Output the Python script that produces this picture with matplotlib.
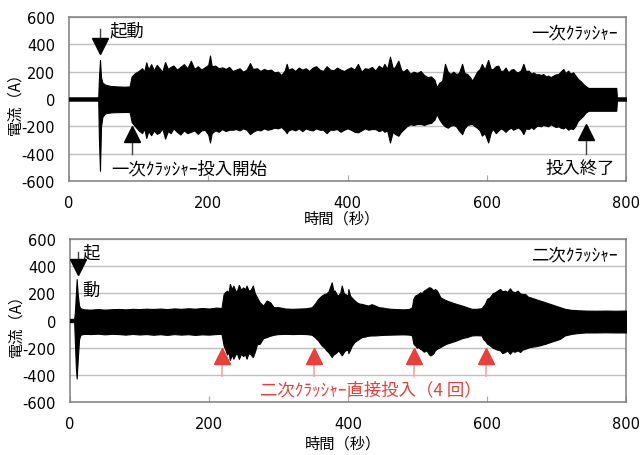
import matplotlib
matplotlib.use('Agg')
import matplotlib.pyplot as plt

JP = ['Noto Sans CJK JP', 'DejaVu Sans']
plt.rcParams['font.family'] = ['DejaVu Sans']
plt.rcParams['axes.unicode_minus'] = False

# 一次クラッシャー: 時間(秒) と電流波形の上下包絡線(A)
top_t = [0, 40, 42, 43, 44.5, 46, 48, 52, 60, 70, 80, 87, 90, 95, 100, 105, 108, 111, 114, 118,
         122, 126, 130, 134, 138, 142, 146, 150, 155, 160, 165, 170, 175, 180, 185, 190, 195, 200,
         202.5, 205, 210, 215, 220, 225, 230, 235, 240, 245, 250, 255, 260, 264, 270, 275, 280,
         285, 290, 295, 300, 305, 310, 312.6, 315, 320, 325, 330, 335, 340, 345, 350, 355, 360,
         365, 370, 375, 380, 385, 390, 395, 400, 405, 410, 415, 420, 425, 430, 435, 440, 445, 450,
         453, 457, 461, 465, 468, 473, 477, 480, 485, 490, 495, 500, 505, 510, 515, 520, 525, 528,
         532, 536, 540, 544, 548, 552, 556, 560, 564.6, 568, 572, 576, 579, 583, 586, 590, 593,
         597, 602, 606, 609, 613, 616.5, 620, 623.7, 627, 631, 635, 638, 642, 645, 649, 652.6,
         656, 660, 664, 667, 671, 674, 678, 681, 685, 688, 692, 695.5, 699, 703, 706, 710, 713,
         717, 720, 724, 727, 731, 735, 738.6, 742, 746, 786, 787, 800]
top_hi = [12, 12, 15, 150, 286, 160, 120, 105, 95, 92, 90, 92, 165, 190, 205, 225, 200, 268, 215, 255,
          210, 250, 225, 200, 270, 220, 235, 245, 215, 235, 255, 225, 280, 220, 240, 215, 232, 250,
          318, 240, 244, 225, 232, 220, 235, 205, 215, 225, 200, 215, 263, 220, 225, 205, 220,
          210, 215, 195, 200, 175, 210, 257, 215, 225, 205, 230, 215, 225, 205, 230, 240, 215,
          205, 240, 215, 210, 230, 215, 205, 220, 232, 215, 257, 200, 225, 220, 235, 208, 244, 225,
          257, 220, 310, 225, 232, 281, 215, 200, 220, 185, 200, 190, 205, 175, 160, 165, 140, 86,
          120, 134, 257, 200, 183, 200, 183, 190, 257, 190, 183, 160, 134, 170, 200, 220, 257,
          215, 286, 215, 220, 240, 244, 205, 208, 230, 195, 215, 220, 200, 195, 210, 257,
          205, 208, 185, 195, 180, 183, 175, 183, 165, 171, 160, 171, 180, 183, 200, 220, 190,
          208, 185, 195, 175, 147, 130, 110, 95, 81, 81, 12, 12]
top_lo = [-12, -12, -15, -300, -525, -200, -130, -105, -98, -96, -95, -95, -170, -200, -230, -250, -215, -285, -235, -265,
          -230, -255, -245, -215, -290, -235, -250, -215, -240, -260, -230, -250, -240, -230, -255, -230, -225, -260,
          -318, -250, -230, -240, -220, -235, -225, -225, -220, -230, -215, -225, -257, -240, -225, -230, -215,
          -225, -220, -210, -215, -205, -230, -250, -230, -220, -230, -215, -235, -215, -225, -230, -215, -225,
          -225, -250, -225, -225, -220, -240, -225, -215, -225, -240, -244, -230, -215, -225, -220, -220, -235, -225,
          -240, -230, -318, -240, -255, -269, -240, -225, -200, -185, -190, -183, -183, -190, -180, -175, -150, -110,
          -150, -180, -200, -210, -195, -190, -200, -230, -257, -215, -190, -185, -183, -200, -210, -230, -268,
          -250, -318, -240, -220, -250, -232, -215, -225, -240, -220, -210, -225, -215, -208, -225, -257,
          -215, -220, -205, -220, -200, -195, -200, -190, -195, -200, -185, -195, -205, -200, -210, -215, -205,
          -225, -215, -220, -200, -159, -140, -122, -100, -86, -86, -12, -12]

# 二次クラッシャー
bot_t = [0, 6, 7, 8.5, 9.6, 11, 13, 15, 20, 30, 40, 50, 60, 70, 80, 90, 100, 110, 120, 130, 140,
         150, 160, 170, 180, 190, 200, 210, 218, 221, 223, 226, 228, 230, 233, 235, 238, 240, 243,
         246, 249, 252, 254, 257, 260, 263, 266, 269, 273, 278, 283, 288, 293, 300, 310, 320, 330,
         340, 348, 352, 357, 362, 366, 369, 372, 376.5, 379, 381, 384, 386, 389, 391, 394, 396,
         400, 400.5, 403, 405, 409, 412.5, 416, 420, 425, 429, 434, 439, 444, 450, 455, 462, 470,
         480, 488, 492, 494, 496.5, 499, 501, 504, 506, 509, 513, 516, 518, 521, 523, 525, 528,
         531, 533, 537, 542, 549, 556, 564, 571, 578, 585, 592, 595, 597, 600, 604, 608, 611.6,
         615, 618.8, 622, 626, 629, 633, 636, 640, 644, 647.6, 651, 655, 659, 662, 669, 676, 684,
         691, 698, 705, 712, 722, 732, 742, 756, 770, 785, 800]
bot_hi = [12, 12, 60, 200, 305, 200, 110, 90, 82, 80, 84, 80, 83, 85, 82, 86, 84, 87, 85, 88, 84,
          89, 86, 90, 87, 92, 88, 95, 92, 195, 208, 220, 200, 269, 230, 257, 220, 215, 262,
          225, 244, 230, 257, 220, 225, 257, 200, 171, 134, 110, 147, 134, 98, 98, 88, 86, 88,
          90, 98, 122, 159, 183, 195, 200, 215, 281, 220, 220, 190, 183, 208, 257, 200, 195,
          183, 232, 183, 171, 150, 134, 125, 122, 115, 110, 120, 110, 98, 95, 90, 86, 84,
          82, 85, 98, 160, 183, 190, 195, 208, 200, 220, 232, 244, 244, 232, 220, 232, 220,
          190, 171, 159, 147, 134, 122, 110, 98, 86, 86, 90, 110, 122, 159, 171, 200, 208,
          220, 232, 215, 220, 210, 237, 215, 208, 220, 200, 195, 195, 175, 171, 159, 147, 134,
          122, 110, 98, 86, 78, 75, 73, 72, 73, 72, 73]
bot_lo = [-12, -12, -150, -350, -427, -300, -140, -105, -98, -100, -97, -102, -98, -100, -104, -99, -103, -100, -105, -101, -106,
          -100, -104, -101, -106, -102, -104, -100, -98, -183, -208, -250, -230, -290, -250, -281, -250, -240, -283,
          -245, -262, -250, -281, -240, -250, -270, -230, -175, -171, -130, -122, -112, -105, -100, -98, -100, -98,
          -100, -105, -122, -147, -183, -200, -220, -235, -269, -250, -245, -232, -220, -240, -257, -232, -220,
          -215, -240, -215, -190, -160, -147, -135, -122, -118, -112, -110, -110, -108, -106, -105, -104, -103,
          -102, -104, -110, -170, -183, -200, -195, -210, -215, -230, -220, -245, -257, -250, -240, -220, -208,
          -200, -195, -183, -170, -159, -147, -130, -122, -110, -108, -110, -140, -147, -170, -183, -200, -208,
          -215, -220, -240, -232, -220, -245, -225, -230, -220, -232, -215, -208, -200, -195, -190, -183, -171,
          -159, -147, -135, -110, -98, -92, -88, -88, -87, -88, -88]

xticks = [0, 200, 400, 600, 800]
yticks = [-600, -400, -200, 0, 200, 400, 600]
red_arrows = [218, 351, 495, 599]

RED = '#e8403a'
PINK = '#f4a5a2'

fig = plt.figure(figsize=(6.41, 4.56), dpi=100)
ax1 = fig.add_axes([69 / 641, 1 - 182 / 456, 557 / 641, 164 / 456])
ax2 = fig.add_axes([70 / 641, 1 - 403 / 456, 556 / 641, 163 / 456])


def style(ax):
    ax.set_xlim(0, 800)
    ax.set_ylim(-600, 600)
    ax.set_xticks(xticks)
    ax.set_yticks(yticks)
    ax.grid(axis='y', color='#bfbfbf', lw=1)
    ax.set_axisbelow(True)
    ax.tick_params(axis='y', length=0, pad=10, labelsize=10.5)
    ax.tick_params(axis='x', direction='in', length=4, color='#a6a6a6', pad=10, labelsize=10.5)
    for s in ax.spines.values():
        s.set_color('#7f7f7f')
        s.set_linewidth(1.1)
    ax.set_xlabel('時間（秒）', family=JP, fontsize=11)
    ax.set_ylabel('電流（A）', family=JP, fontsize=11)
    ax.yaxis.set_label_coords(-0.082, 0.5)


style(ax1)
style(ax2)
ax1.xaxis.set_label_coords(0.49, -0.175)
ax2.xaxis.set_label_coords(0.49, -0.2)

# 波形
ax1.fill_between(top_t, top_lo, top_hi, color='black', lw=0.8, zorder=3)
ax2.fill_between(bot_t, bot_lo, bot_hi, color='black', lw=0.8, zorder=3)

txt = dict(family=JP, fontsize=12.5, va='center', zorder=5)

# 上段の注記
ax1.plot([44.5, 44.5], [513, 400], color='#404040', lw=1, zorder=4)
ax1.plot([44.5], [390], marker='v', ms=11, color='black', zorder=4)
ax1.text(58, 500, '起動', ha='left', **txt)
ax1.plot([90, 90], [-403, -290], color='#404040', lw=1, zorder=4)
ax1.plot([90], [-255], marker='^', ms=11, color='black', zorder=4)
ax1.text(60, -510, '一次ｸﾗｯｼｬｰ投入開始', ha='left', **txt)
ax1.plot([742.5, 742.5], [-403, -290], color='#404040', lw=1, zorder=4)
ax1.plot([742.5], [-242], marker='^', ms=11, color='black', zorder=4)
ax1.text(685, -505, '投入終了', ha='left', **txt)
ax1.text(788, 490, '一次ｸﾗｯｼｬｰ', ha='right', **txt)

# 下段の注記
ax2.plot([12.2, 12.2], [506, 420], color='#404040', lw=1, zorder=4)
ax2.plot([12.2], [396], marker='v', ms=11, color='black', zorder=4)
ax2.text(18, 503, '起', ha='left', **txt)
ax2.text(18, 222, '動', ha='left', **txt)
ax2.text(788, 490, '二次ｸﾗｯｼｬｰ', ha='right', **txt)
for x in red_arrows:
    ax2.plot([x, x], [-410, -290], color=PINK, lw=1.2, zorder=4)
    ax2.plot([x], [-262], marker='^', ms=11, color=RED, zorder=4)
ax2.text(274, -510, '二次ｸﾗｯｼｬｰ直接投入（4 回）', ha='left', color=RED, **txt)

fig.savefig('out.png', dpi=100)
